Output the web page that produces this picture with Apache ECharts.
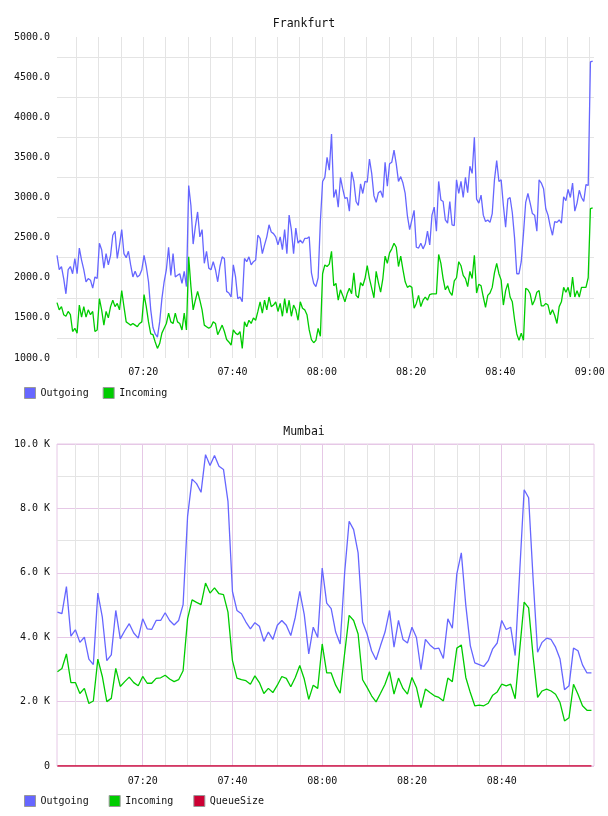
<!DOCTYPE html>
<html>
<head>
<meta charset="utf-8">
<script src="https://cdn.jsdelivr.net/npm/echarts@6/dist/echarts.min.js"></script>
<style>
  html, body { margin: 0; padding: 0; background: #fff; }
  #chart { width: 608px; height: 816px; }
</style>
</head>
<body>
<div id="chart"></div>
<script>
// Frankfurt: 30 s samples starting 07:00:40
var fraStart = '07:00:40';
var fraStepSec = 30;
var fraOutgoing = [
  2280, 2100, 2140, 1990, 1800, 2100, 2140, 2050, 2240, 2050,
  2370, 2220, 2100, 1950, 1990, 1970, 1870, 2010, 1990, 2430,
  2350, 2120, 2300, 2160, 2280, 2530, 2580, 2240, 2410, 2600,
  2300, 2250, 2330, 2160, 2010, 2080, 2010, 2030, 2100, 2280,
  2140, 1950, 1600, 1380, 1300, 1260, 1450, 1740, 1950, 2100,
  2380, 2030, 2300, 2010, 2030, 2050, 1930, 2080, 1890, 3150,
  2900, 2420, 2640, 2820, 2510, 2600, 2180, 2330, 2120, 2100,
  2200, 2100, 1950, 2140, 2260, 2240, 1830, 1810, 1760, 2160,
  2010, 1740, 1760, 1700, 2240, 2200, 2260, 2160, 2200, 2220,
  2530, 2490, 2300, 2410, 2510, 2660, 2570, 2550, 2510, 2410,
  2510, 2350, 2600, 2300, 2780, 2600, 2300, 2620, 2430, 2470,
  2430, 2490, 2490, 2510, 2060, 1930, 1890, 2000, 2700, 3200,
  3250, 3500, 3340, 3790, 3000, 3100, 2880, 3250, 3110, 2990,
  3000, 2830, 3320, 3200, 2950, 2900, 3170, 3050, 3200, 3190,
  3480, 3300, 3020, 2940, 3060, 3080, 3000, 3440, 3140, 3420,
  3440, 3590, 3420, 3200, 3260, 3180, 3050, 2770, 2600, 2720,
  2840, 2380, 2370, 2430, 2360, 2420, 2580, 2410, 2780, 2880,
  2580, 3200, 2970, 2950, 2720, 2680, 2950, 2660, 2650, 3220,
  3050, 3200, 3000, 3250, 3060, 3390, 3300, 3750, 2980, 2930,
  3030, 2780, 2700, 2720, 2690, 2800, 3220, 3460, 3200, 3220,
  2900, 2630, 2980, 3000, 2810, 2500, 2050, 2050, 2200, 2550,
  2940, 3050, 2930, 2800, 2780, 2580, 3220, 3180, 3110, 2860,
  2780, 2640, 2530, 2700, 2690, 2720, 2680, 3010, 2960, 3100,
  3000, 3180, 2830, 2930, 3090, 3000, 2950, 3160, 3150, 4690,
  4700
];
var fraIncoming = [
  1690, 1600, 1640, 1540, 1520, 1580, 1540, 1330, 1370, 1310,
  1660, 1510, 1640, 1510, 1600, 1540, 1580, 1330, 1350, 1740,
  1600, 1410, 1580, 1500, 1640, 1720, 1640, 1680, 1600, 1840,
  1640, 1450, 1430, 1410, 1430, 1410, 1390, 1430, 1450, 1790,
  1640, 1450, 1300, 1290, 1200, 1120, 1180, 1310, 1370, 1430,
  1560, 1450, 1430, 1560, 1450, 1430, 1350, 1560, 1350, 2260,
  1890, 1600, 1720, 1830, 1720, 1600, 1410, 1390, 1370, 1390,
  1450, 1430, 1290, 1350, 1410, 1330, 1230, 1200, 1160, 1350,
  1310, 1290, 1330, 1120, 1450, 1390, 1470, 1430, 1500, 1470,
  1580, 1700, 1560, 1720, 1600, 1760, 1640, 1660, 1700, 1580,
  1680, 1520, 1740, 1560, 1720, 1520, 1660, 1600, 1470, 1700,
  1620, 1600, 1540, 1350, 1230, 1190, 1220, 1370, 1270, 2050,
  2160, 2140, 2170, 2330, 1900, 1930, 1720, 1850, 1780, 1700,
  1800, 1870, 1800, 2060, 1780, 1750, 1940, 1900, 1990, 2150,
  1990, 1870, 1750, 2080, 1940, 1820, 1990, 2270, 2180, 2310,
  2360, 2430, 2380, 2140, 2270, 2100, 1950, 1880, 1900, 1880,
  1620, 1680, 1780, 1640, 1720, 1760, 1720, 1790, 1800, 1800,
  1800, 2290, 2180, 1990, 1850, 1900, 1820, 1780, 1960, 2000,
  2200, 2150, 2030, 1990, 1890, 2080, 1990, 2280, 1810, 1920,
  1900, 1760, 1630, 1780, 1810, 1880, 2060, 2180, 2050, 1970,
  1660, 1840, 1930, 1760, 1700, 1480, 1300, 1220, 1310, 1220,
  1870, 1850, 1800, 1660, 1720, 1820, 1840, 1650, 1650, 1680,
  1660, 1540, 1600, 1530, 1430, 1640, 1700, 1880, 1820, 1880,
  1760, 2010, 1760, 1840, 1760, 1880, 1880, 1880, 2000, 2860,
  2870
];
var fraXLabels = ['07:20', '07:40', '08:00', '08:20', '08:40', '09:00'];
var fraYLabels = [1000, 1500, 2000, 2500, 3000, 3500, 4000, 4500, 5000];
var fraYGrid = [1250, 1750, 2250, 2750, 3250, 3750, 4250, 4750];

// Mumbai: 1 min samples starting 07:01
var mumStart = '07:01:00';
var mumStepSec = 60;
var mumOutgoing = [
  4780, 4730, 5570, 4030, 4230, 3840, 4000, 3320, 3150, 5370,
  4620, 3270, 3450, 4830, 3950, 4200, 4420, 4130, 3970, 4570,
  4260, 4240, 4520, 4520, 4760, 4520, 4380, 4520, 5010, 7750,
  8910, 8770, 8500, 9670, 9330, 9640, 9310, 9210, 8220, 5420,
  4830, 4730, 4470, 4260, 4450, 4340, 3870, 4160, 3930, 4370,
  4520, 4370, 4050, 4620, 5420, 4700, 3480, 4310, 3990, 6150,
  5060, 4890, 4160, 3790, 6000, 7600, 7340, 6620, 4470, 4100,
  3580, 3300, 3740, 4160, 4830, 3690, 4520, 3930, 3820, 4310,
  3990, 2990, 3930, 3760, 3640, 3660, 3340, 4570, 4280, 5970,
  6620, 4990, 3740, 3200, 3150, 3090, 3270, 3640, 3820, 4520,
  4240, 4310, 3430, 6000, 8580, 8330, 5800, 3530, 3840, 3970,
  3930, 3690, 3320, 2370, 2490, 3660, 3580, 3140, 2890, 2890
];
var mumIncoming = [
  2930, 3030, 3480, 2590, 2590, 2250, 2410, 1940, 2020, 3320,
  2780, 2000, 2100, 3030, 2470, 2620, 2760, 2590, 2490, 2780,
  2570, 2570, 2720, 2740, 2820, 2700, 2620, 2680, 2960, 4570,
  5160, 5080, 5010, 5680, 5370, 5530, 5350, 5320, 4780, 3270,
  2730, 2680, 2650, 2540, 2800, 2590, 2250, 2410, 2280, 2510,
  2780, 2720, 2460, 2750, 3120, 2700, 2070, 2510, 2410, 3790,
  2890, 2890, 2510, 2260, 3500, 4680, 4520, 4100, 2680, 2440,
  2180, 1990, 2260, 2540, 2930, 2230, 2730, 2410, 2230, 2750,
  2440, 1810, 2390, 2280, 2180, 2130, 2020, 2730, 2620, 3660,
  3760, 2750, 2280, 1870, 1890, 1870, 1950, 2200, 2300, 2540,
  2490, 2540, 2090, 3600, 5090, 4910, 3400, 2130, 2330, 2390,
  2330, 2230, 1970, 1400, 1500, 2540, 2230, 1870, 1730, 1730
];
var mumQueueSize = [
  0, 0, 0, 0, 0, 0, 0, 0, 0, 0, 0, 0, 0, 0, 0, 0, 0, 0, 0, 0,
  0, 0, 0, 0, 0, 0, 0, 0, 0, 0, 0, 0, 0, 0, 0, 0, 0, 0, 0, 0,
  0, 0, 0, 0, 0, 0, 0, 0, 0, 0, 0, 0, 0, 0, 0, 0, 0, 0, 0, 0,
  0, 0, 0, 0, 0, 0, 0, 0, 0, 0, 0, 0, 0, 0, 0, 0, 0, 0, 0, 0,
  0, 0, 0, 0, 0, 0, 0, 0, 0, 0, 0, 0, 0, 0, 0, 0, 0, 0, 0, 0,
  0, 0, 0, 0, 0, 0, 0, 0, 0, 0, 0, 0, 0, 0, 0, 0, 0, 0, 0, 0
];
var mumXLabels = ['07:20', '07:40', '08:00', '08:20', '08:40'];
var mumYLabels = [0, 2000, 4000, 6000, 8000, 10000];

var FONT = 'DejaVu Sans Mono';
var BLUE = '#6666ff', GREEN = '#00cc00', RED = '#cc0033';
var GRAY = '#e4e4e4', PINK = '#e6c8e6';

// minutes since 07:00
function toMin(s) {
    var p = s.split(':');
    return (Number(p[0]) - 7) * 60 + Number(p[1]) + (p[2] ? Number(p[2]) / 60 : 0);
}
function fmtTime(v) {
    var m = Math.round(v);
    var h = 7 + Math.floor(m / 60);
    var mm = m % 60;
    return (h < 10 ? '0' : '') + h + ':' + (mm < 10 ? '0' : '') + mm;
}
function toPairs(start, stepSec, arr) {
    var t0 = toMin(start);
    return arr.map(function (v, i) { return [t0 + i * stepSec / 60, v]; });
}

var fraMin = toMin('07:00:40'), fraMax = toMin('09:00:58');
var mumMin = toMin('07:00:54'), mumMax = toMin('09:00:34');

var fiveMin = [], fiveMinNo20 = [];
for (var m = 5; m <= 120; m += 5) {
    fiveMin.push(m);
    if (m % 20 !== 0 && m < 120) fiveMinNo20.push(m);
}

var labelStyle = { fontFamily: FONT, fontSize: 10, color: '#111' };

var chart = echarts.init(document.getElementById('chart'), null, { renderer: 'canvas' });
chart.setOption({
    animation: false,
    backgroundColor: '#fff',
    title: [
        { text: 'Frankfurt', left: 'center', top: 13,
          textStyle: { fontFamily: FONT, fontSize: 11.5, fontWeight: 'normal', color: '#111' } },
        { text: 'Mumbai', left: 'center', top: 421,
          textStyle: { fontFamily: FONT, fontSize: 11.5, fontWeight: 'normal', color: '#111' } }
    ],
    legend: [
        { data: ['Outgoing', 'Incoming'], left: 24, top: 387, padding: 0,
          icon: 'rect', itemWidth: 11, itemHeight: 11, itemGap: 14,
          itemStyle: { borderColor: '#999', borderWidth: 1 },
          textStyle: labelStyle },
        { data: ['Outgoing', 'Incoming', 'QueueSize'], left: 24, top: 795, padding: 0,
          icon: 'rect', itemWidth: 11, itemHeight: 11, itemGap: 20,
          itemStyle: { borderColor: '#999', borderWidth: 1 },
          textStyle: labelStyle }
    ],
    grid: [
        { left: 57, right: 14, top: 37, height: 321, outerBoundsMode: 'none' },
        { left: 57, right: 14, top: 444, height: 322, outerBoundsMode: 'none',
          show: true, borderColor: PINK, borderWidth: 1 }
    ],
    xAxis: [
        { gridIndex: 0, type: 'value', min: fraMin, max: fraMax,
          axisLine: { show: false },
          axisTick: { show: false, customValues: fiveMin },
          axisLabel: { customValues: fraXLabels.map(toMin), formatter: fmtTime, margin: 9,
                       fontFamily: FONT, fontSize: 10, color: '#111' },
          splitLine: { show: true, lineStyle: { color: GRAY, width: 1 } } },
        { gridIndex: 1, type: 'value', min: mumMin, max: mumMax,
          axisLine: { show: false },
          axisTick: { show: false, customValues: mumXLabels.map(toMin) },
          axisLabel: { customValues: mumXLabels.map(toMin), formatter: fmtTime, margin: 10,
                       fontFamily: FONT, fontSize: 10, color: '#111' },
          splitLine: { show: true, lineStyle: { color: PINK, width: 1 } } },
        { gridIndex: 1, type: 'value', min: mumMin, max: mumMax, position: 'bottom',
          axisLine: { show: false },
          axisTick: { show: false, customValues: fiveMinNo20 },
          axisLabel: { show: false },
          splitLine: { show: true, lineStyle: { color: GRAY, width: 1 } } }
    ],
    yAxis: [
        { gridIndex: 0, type: 'value', min: 1000, max: 5000,
          axisLine: { show: false },
          axisTick: { show: false, customValues: fraYGrid },
          axisLabel: { customValues: fraYLabels, margin: 7,
                       formatter: function (v) { return v.toFixed(1); },
                       fontFamily: FONT, fontSize: 10, color: '#111' },
          splitLine: { show: true, lineStyle: { color: GRAY, width: 1 } } },
        { gridIndex: 1, type: 'value', min: 0, max: 10000, interval: 2000,
          axisLine: { show: false },
          axisTick: { show: false },
          minorTick: { show: false, splitNumber: 2 },
          axisLabel: { margin: 7,
                       formatter: function (v) { return v === 0 ? '0' : (v / 1000).toFixed(1) + ' K'; },
                       fontFamily: FONT, fontSize: 10, color: '#111' },
          splitLine: { show: true, lineStyle: { color: PINK, width: 1 } },
          minorSplitLine: { show: true, lineStyle: { color: GRAY, width: 1 } } }
    ],
    series: [
        { name: 'Outgoing', type: 'line', xAxisIndex: 0, yAxisIndex: 0, symbol: 'none',
          color: BLUE, lineStyle: { width: 1.3 }, data: toPairs(fraStart, fraStepSec, fraOutgoing) },
        { name: 'Incoming', type: 'line', xAxisIndex: 0, yAxisIndex: 0, symbol: 'none',
          color: GREEN, lineStyle: { width: 1.3 }, data: toPairs(fraStart, fraStepSec, fraIncoming) },
        { name: 'Outgoing', type: 'line', xAxisIndex: 1, yAxisIndex: 1, symbol: 'none',
          color: BLUE, lineStyle: { width: 1.3 }, data: toPairs(mumStart, mumStepSec, mumOutgoing) },
        { name: 'Incoming', type: 'line', xAxisIndex: 1, yAxisIndex: 1, symbol: 'none',
          color: GREEN, lineStyle: { width: 1.3 }, data: toPairs(mumStart, mumStepSec, mumIncoming) },
        { name: 'QueueSize', type: 'line', xAxisIndex: 1, yAxisIndex: 1, symbol: 'none',
          color: RED, lineStyle: { width: 1.3 }, data: toPairs(mumStart, mumStepSec, mumQueueSize) }
    ]
});
</script>
</body>
</html>
